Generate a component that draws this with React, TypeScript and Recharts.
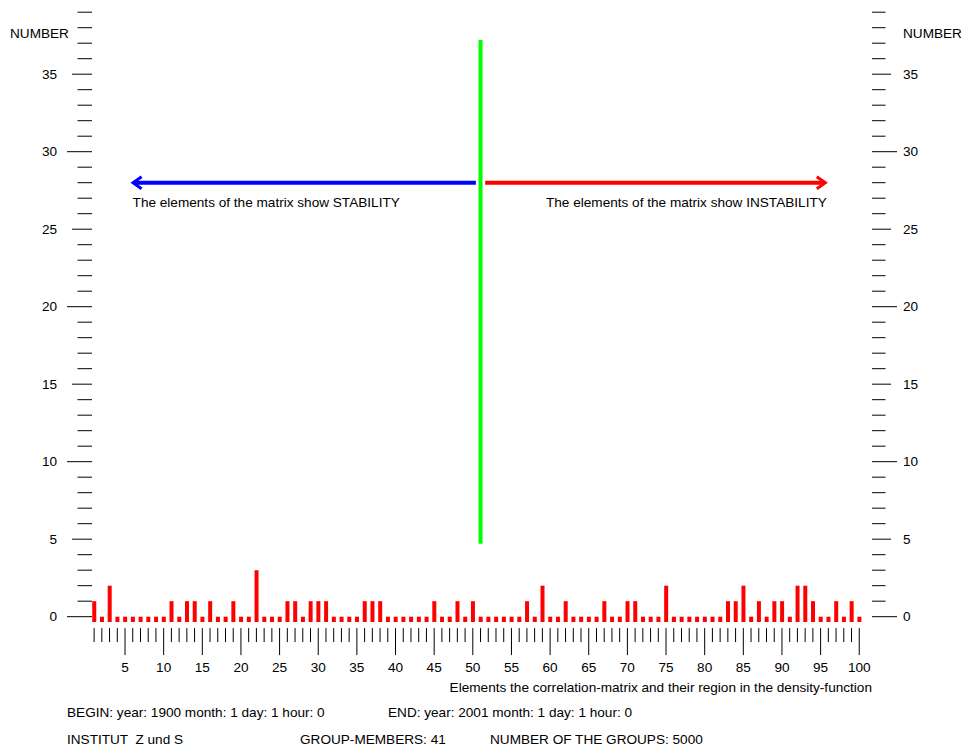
import React from 'react';
import { ComposedChart, Bar, XAxis, YAxis, ReferenceLine } from 'recharts';

// Number of correlation-matrix elements falling in each of the 100 regions
const counts = [
  1, 0, 2, 0, 0, 0, 0, 0, 0, 0,
  1, 0, 1, 1, 0, 1, 0, 0, 1, 0,
  0, 3, 0, 0, 0, 1, 1, 0, 1, 1,
  1, 0, 0, 0, 0, 1, 1, 1, 0, 0,
  0, 0, 0, 0, 1, 0, 0, 1, 0, 1,
  0, 0, 0, 0, 0, 0, 1, 0, 2, 0,
  0, 1, 0, 0, 0, 0, 1, 0, 0, 1,
  1, 0, 0, 0, 2, 0, 0, 0, 0, 0,
  0, 0, 1, 1, 2, 0, 1, 0, 1, 1,
  0, 2, 2, 1, 0, 0, 1, 0, 1, 0,
];
const barFloor = -0.35;
const xTicks = Array.from({ length: 100 }, (_, i) => i + 1);
const yTicks = Array.from({ length: 40 }, (_, i) => i);
const xDomain = [0.728, 101.65];
const yDomain = [barFloor, 39];

const divider = [{ x: 51, y: 4.7 }, { x: 51, y: 37.2 }];
const stabilityArrow = [{ x: 5.85, y: 28 }, { x: 50.4, y: 28 }];
const instabilityArrow = [{ x: 51.6, y: 28 }, { x: 95.8, y: 28 }];
const stabilityText = 'The elements of the matrix show STABILITY';
const instabilityText = 'The elements of the matrix show INSTABILITY';
const xTitle = 'Elements the correlation-matrix and their region in the density-function';
const yTitle = 'NUMBER';
const infoLines = [
  { text: 'BEGIN: year: 1900 month: 1 day: 1 hour: 0', left: 67, top: 713 },
  { text: 'END: year: 2001 month: 1 day: 1 hour: 0', left: 388, top: 713 },
  { text: 'INSTITUT  Z und S', left: 67, top: 740 },
  { text: 'GROUP-MEMBERS: 41', left: 300, top: 740 },
  { text: 'NUMBER OF THE GROUPS: 5000', left: 490, top: 740 },
];

const data = counts.map((c, i) => ({ element: i + 1, range: [barFloor, c] }));

const FONT = '"Liberation Sans", Arial, sans-serif';
const FS = 13.6;

const LeftTick = (props: any) => {
  const { x, y, payload } = props;
  const v = payload.value;
  const len = v % 10 === 0 ? 25 : v % 5 === 0 ? 20 : 14.5;
  return (
    <g>
      <line x1={x - len} x2={x} y1={y} y2={y} stroke="#000" strokeWidth={1} />
      {v % 5 === 0 && (
        <text x={x - 35} y={y} textAnchor="end" dominantBaseline="central" fontFamily={FONT} fontSize={FS} fill="#000">
          {v}
        </text>
      )}
    </g>
  );
};

const RightTick = (props: any) => {
  const { x, y, payload } = props;
  const v = payload.value;
  const len = v % 10 === 0 ? 25 : v % 5 === 0 ? 19 : 13.5;
  return (
    <g>
      <line x1={x} x2={x + len} y1={y} y2={y} stroke="#000" strokeWidth={1} />
      {v % 5 === 0 && (
        <text x={x + 31} y={y} textAnchor="start" dominantBaseline="central" fontFamily={FONT} fontSize={FS} fill="#000">
          {v}
        </text>
      )}
    </g>
  );
};

const BottomTick = (props: any) => {
  const { x, y, payload } = props;
  const v = payload.value;
  const major = v % 5 === 0;
  return (
    <g>
      <line x1={x} x2={x} y1={y + 6} y2={major ? y + 33 : y + 20} stroke="#000" strokeWidth={1} />
      {major && (
        <text x={x} y={y + 45} textAnchor="middle" dominantBaseline="central" fontFamily={FONT} fontSize={FS} fill="#000">
          {v}
        </text>
      )}
    </g>
  );
};

const LeftArrow = (props: any) => {
  const { x1, y1, x2, y2 } = props;
  const xl = Math.min(x1, x2);
  const xr = Math.max(x1, x2);
  return (
    <g>
      <line x1={xl + 2} x2={xr} y1={y1} y2={y2} stroke="#0000ff" strokeWidth={4} />
      <polyline points={`${xl + 10},${y1 - 6} ${xl + 1.5},${y1} ${xl + 10},${y1 + 6}`} fill="none" stroke="#0000ff" strokeWidth={3} />
      <text x={xl + 1} y={y1 + 20} textAnchor="start" dominantBaseline="central" fontFamily={FONT} fontSize={FS} fill="#000">
        {stabilityText}
      </text>
    </g>
  );
};

const RightArrow = (props: any) => {
  const { x1, y1, x2, y2 } = props;
  const xl = Math.min(x1, x2);
  const xr = Math.max(x1, x2);
  return (
    <g>
      <line x1={xl} x2={xr - 2} y1={y1} y2={y2} stroke="#ff0000" strokeWidth={4} />
      <polyline points={`${xr - 10},${y1 - 6} ${xr - 1.5},${y1} ${xr - 10},${y1 + 6}`} fill="none" stroke="#ff0000" strokeWidth={3} />
      <text x={xr} y={y1 + 20} textAnchor="end" dominantBaseline="central" fontFamily={FONT} fontSize={FS} fill="#000">
        {instabilityText}
      </text>
    </g>
  );
};

const textStyle: React.CSSProperties = {
  position: 'absolute',
  fontFamily: FONT,
  fontSize: FS,
  color: '#000',
  whiteSpace: 'pre',
  lineHeight: '16px',
  transform: 'translateY(-8px)',
};

export default function App() {
  return (
    <div style={{ position: 'absolute', left: 0, top: 0, width: 965, height: 749, background: '#fff' }}>
      <ComposedChart
        width={965}
        height={749}
        data={data}
        margin={{ top: 12.2, right: 0, bottom: 66.9, left: 0 }}
      >
        <XAxis
          dataKey="element"
          type="number"
          domain={xDomain}
          ticks={xTicks}
          interval={0}
          axisLine={false}
          tickLine={false}
          tickSize={0}
          tickMargin={0}
          height={60}
          tick={<BottomTick />}
          allowDataOverflow
        />
        <YAxis
          yAxisId="left"
          type="number"
          domain={yDomain}
          ticks={yTicks}
          interval={0}
          axisLine={false}
          tickLine={false}
          tickSize={0}
          tickMargin={0}
          width={92}
          tick={<LeftTick />}
          allowDataOverflow
        />
        <YAxis
          yAxisId="right"
          orientation="right"
          type="number"
          domain={yDomain}
          ticks={yTicks}
          interval={0}
          axisLine={false}
          tickLine={false}
          tickSize={0}
          tickMargin={0}
          width={93}
          tick={<RightTick />}
          allowDataOverflow
        />
        <Bar yAxisId="left" dataKey="range" fill="#ff0000" barSize={4} isAnimationActive={false} />
        <ReferenceLine
          yAxisId="left"
          segment={divider}
          stroke="#00ff00"
          strokeWidth={4}
          ifOverflow="visible"
        />
        <ReferenceLine
          yAxisId="left"
          segment={stabilityArrow}
          ifOverflow="visible"
          shape={(p: any) => <LeftArrow {...p} />}
        />
        <ReferenceLine
          yAxisId="left"
          segment={instabilityArrow}
          ifOverflow="visible"
          shape={(p: any) => <RightArrow {...p} />}
        />
      </ComposedChart>
      <div style={{ ...textStyle, left: 10, top: 34 }}>{yTitle}</div>
      <div style={{ ...textStyle, left: 903, top: 34 }}>{yTitle}</div>
      <div style={{ ...textStyle, right: 965 - 872, top: 688 }}>{xTitle}</div>
      {infoLines.map((l) => (
        <div key={l.text} style={{ ...textStyle, left: l.left, top: l.top }}>{l.text}</div>
      ))}
    </div>
  );
}
